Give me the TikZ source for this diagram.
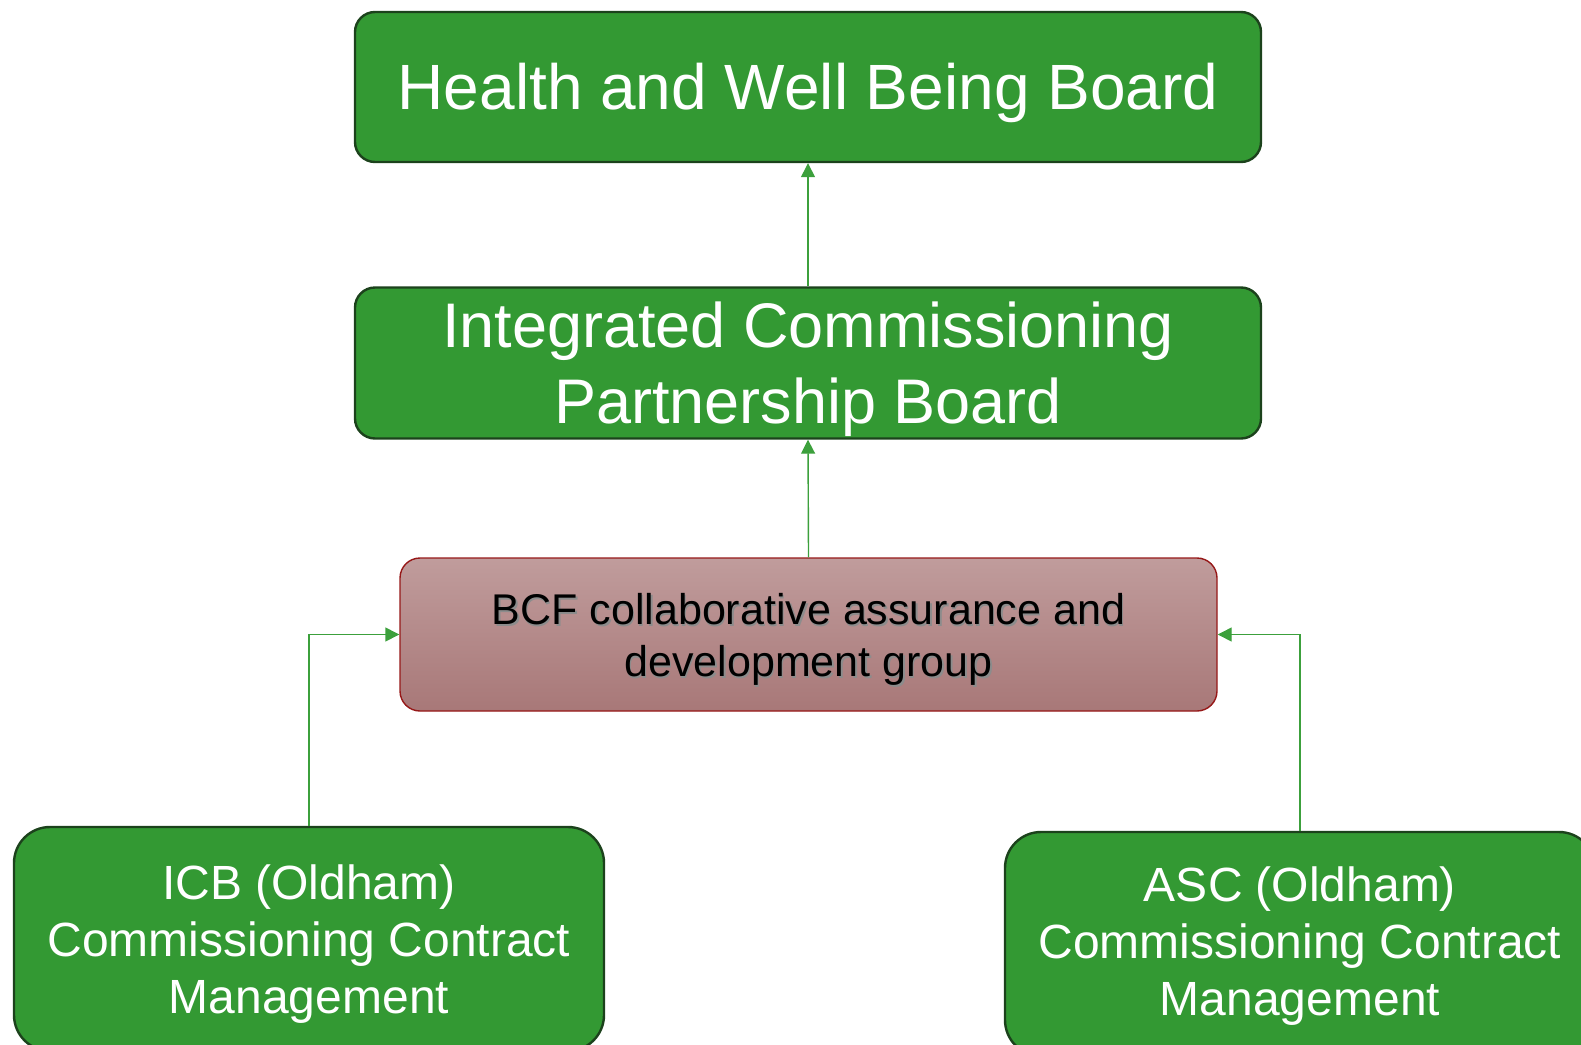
\documentclass[tikz,border=0pt]{standalone}
\usepackage{fontspec}
\setmainfont{Liberation Sans}
\usetikzlibrary{arrows.meta}
\definecolor{boxgreen}{RGB}{51,153,51}
\definecolor{boxedge}{RGB}{28,66,28}
\definecolor{rosetop}{RGB}{192,156,156}
\definecolor{rosebot}{RGB}{168,120,120}
\definecolor{roseedge}{RGB}{150,24,24}
\definecolor{linkgreen}{RGB}{60,160,60}
\tikzset{
  greenbox/.style={draw=boxedge, line width=2.4pt, fill=boxgreen,
    rounded corners=20pt, inner sep=0pt},
  rosebox/.style={draw=roseedge, line width=1.4pt, top color=rosetop,
    bottom color=rosebot, rounded corners=20pt, inner sep=0pt},
  link/.style={draw=linkgreen, line width=1.4pt,
    -{Triangle[length=14pt,width=14pt]}},
  label/.style={text=white, align=center, inner sep=0pt},
  huge/.style={label, font=\fontsize{64}{77}\selectfont},
  big/.style={label, font=\fontsize{63}{76}\selectfont},
  mid/.style={label, font=\fontsize{48}{57}\selectfont},
  small/.style={align=center, inner sep=0pt, font=\fontsize{43}{52}\selectfont},
}
\begin{document}
\begin{tikzpicture}[x=1pt,y=-1pt]
  \useasboundingbox (0,0) rectangle (1581,1044);
  \clip (0,0) rectangle (1581,1044);

  % board levels
  \node[greenbox, minimum width=906pt, minimum height=150pt] (hwb) at (808,87) {};
  \node[huge] (hwbtext) at ([yshift=-6pt]hwb.center) {Health and Well Being Board};
  \node[greenbox, minimum width=906pt, minimum height=151pt] (icp) at (808,363) {};
  \node[big] (icptext) at ([yshift=-6pt]icp.center) {Integrated Commissioning\\Partnership Board};

  % collaborative group
  \node[rosebox, minimum width=817pt, minimum height=153pt] (bcf) at (808.5,634.5) {};
  \node[small, text=black!45] (bcfshadow) at ([xshift=1.5pt,yshift=-6.5pt]bcf.center)
    {BCF collaborative assurance and\\development group};
  \node[small, text=black] (bcftext) at ([yshift=-5pt]bcf.center)
    {BCF collaborative assurance and\\development group};

  % commissioning teams
  \node[greenbox, rounded corners=36pt, minimum width=590pt, minimum height=224pt] (icb) at (309,939) {};
  \node[mid] (icbtext) at ([yshift=-5pt]icb.center)
    {ICB (Oldham)\\Commissioning Contract\\Management};
  \node[greenbox, rounded corners=36pt, minimum width=590pt, minimum height=224pt] (asc) at (1300,944) {};
  \node[mid] (asctext) at ([yshift=-2pt]asc.center)
    {ASC (Oldham)\\Commissioning Contract\\Management};

  % reporting lines
  \draw[link] (icp.north) -- (hwb.south);
  \draw[link] (bcf.north) -- (icp.south);
  \draw[link] (icb.north) |- (bcf.west);
  \draw[link] (asc.north) |- (bcf.east);
\end{tikzpicture}
\end{document}
